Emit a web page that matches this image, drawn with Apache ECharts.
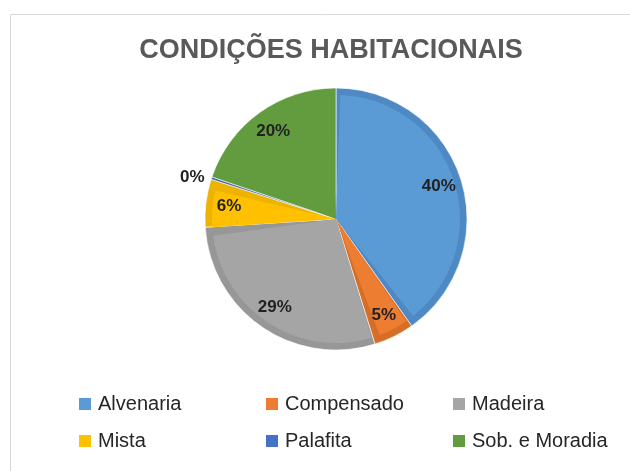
<!DOCTYPE html>
<html>
<head>
<meta charset="utf-8">
<title>Condições Habitacionais</title>
<script src="https://cdn.jsdelivr.net/npm/echarts@6/dist/echarts.min.js"></script>
<style>
  html, body { margin: 0; padding: 0; background: #fff; }
  #chart { width: 630px; height: 471px; }
</style>
</head>
<body>
<div id="chart"></div>
<script>
// dados (percentual de cada tipo)
const categorias = ['Alvenaria', 'Compensado', 'Madeira', 'Mista', 'Palafita', 'Sob. e Moradia']
const valores = [40.2, 5.0, 28.8, 5.9, 0.3, 19.8]

// cores estilo Excel: preenchimento e borda (bisel) mais escura
const cores = ['#5b9bd5', '#ed7d31', '#a5a5a5', '#ffc000', '#4472c4', '#629c3f']
const coresBorda = ['#4e89c4', '#d66e28', '#979797', '#eeb200', '#3d66b4', '#629c3f']

const R = 131
const center = [336, 219]

const fonte = '"Liberation Sans", Arial, sans-serif'

const dadosBase = categorias.map((nome, i) => ({
  name: nome,
  value: valores[i],
  itemStyle: { color: coresBorda[i] }
}))
const dadosTopo = categorias.map((nome, i) => ({
  name: nome,
  value: valores[i],
  itemStyle: { color: cores[i] }
}))
const dadosRotulo = categorias.map((nome, i) => {
  const item = { name: nome, value: valores[i] }
  if (valores[i] < 1) {
    // fatia minúscula: rótulo fica do lado de fora
    item.label = { position: 'outside' }
  }
  return item
})

// legenda em 3 colunas de 2 itens
const colunas = [
  [0, 3],
  [1, 4],
  [2, 5]
]
const esquerdas = [72, 259, 446]
const legendas = colunas.map((col, k) => ({
  orient: 'vertical',
  left: esquerdas[k],
  top: 389,
  itemWidth: 14,
  itemHeight: 14,
  itemGap: 17,
  icon: 'rect',
  selectedMode: false,
  textStyle: { fontFamily: fonte, fontSize: 20, color: '#262626', padding: [0, 0, 0, 1] },
  data: col.map(i => ({ name: categorias[i], itemStyle: { color: cores[i] } }))
}))

const option = {
  animation: false,
  backgroundColor: '#fff',
  title: {
    text: 'CONDIÇÕES HABITACIONAIS',
    left: 326,
    top: 32,
    textAlign: 'center',
    textStyle: { fontFamily: fonte, fontSize: 27, fontWeight: 'bold', color: '#595959' }
  },
  graphic: [{
    type: 'rect',
    shape: { x: 10.5, y: 14.5, width: 700, height: 500 },
    style: { fill: 'none', stroke: '#d9d9d9', lineWidth: 1 },
    silent: true
  }],
  legend: legendas,
  series: [
    {
      // base escura (borda do bisel)
      type: 'pie',
      center: center,
      radius: [0, R],
      startAngle: 90,
      clockwise: true,
      label: { show: false },
      labelLine: { show: false },
      itemStyle: { borderColor: '#ffffff', borderWidth: 0.6 },
      emphasis: { disabled: true },
      data: dadosBase
    },
    {
      // preenchimento claro por cima
      type: 'pie',
      center: center,
      radius: [0, R - 7],
      startAngle: 90,
      clockwise: true,
      padAngle: 4,
      silent: true,
      legendHoverLink: false,
      label: { show: false },
      labelLine: { show: false },
      emphasis: { disabled: true },
      data: dadosTopo
    },
    {
      // só rótulos, posicionados a ~0.8R
      type: 'pie',
      center: center,
      radius: [R * 0.6, R],
      startAngle: 90,
      clockwise: true,
      silent: true,
      legendHoverLink: false,
      itemStyle: { color: 'rgba(0,0,0,0)' },
      emphasis: { disabled: true },
      label: {
        show: true,
        position: 'inside',
        fontFamily: fonte,
        fontSize: 17,
        fontWeight: 'bold',
        color: '#222222',
        formatter: p => Math.round(p.value) + '%'
      },
      labelLine: { show: false, length: 2, length2: 0 },
      data: dadosRotulo
    }
  ]
}

const myChart = echarts.init(document.getElementById('chart'))
myChart.setOption(option)
</script>
</body>
</html>
